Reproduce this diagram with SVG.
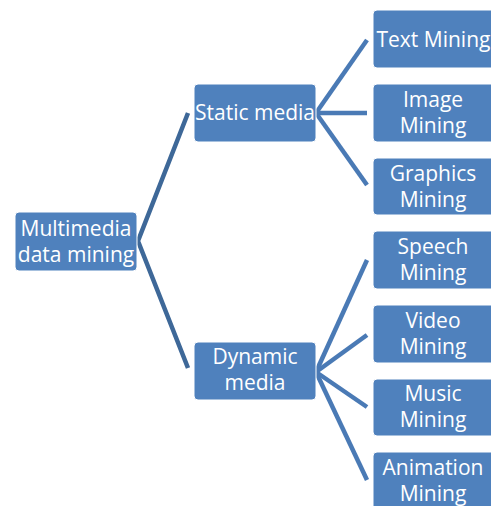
<svg xmlns="http://www.w3.org/2000/svg" width="491" height="506" viewBox="0 0 491 506">
<style>
.box{fill:#4f81bd;stroke:#ffffff;stroke-width:1}
.t{font-family:"Open Sans","Liberation Sans",sans-serif;font-size:21px;fill:#ffffff;text-anchor:middle}
.c1{stroke:#3e6898;stroke-width:4.5;fill:none;stroke-linejoin:miter}
.c2{stroke:#4a7ab5;stroke-width:4.5;fill:none}
</style>
<rect width="491" height="506" fill="#ffffff"/>
<g id="connectors">
<polyline class="c1" points="188,113 138,241 188,368"/>
<line class="c2" x1="316" y1="113" x2="367" y2="40"/>
<line class="c2" x1="316" y1="113" x2="367" y2="113"/>
<line class="c2" x1="316" y1="113" x2="367" y2="185"/>
<line class="c2" x1="316" y1="372" x2="367" y2="260"/>
<line class="c2" x1="316" y1="372" x2="367" y2="335"/>
<line class="c2" x1="316" y1="372" x2="367" y2="407"/>
<line class="c2" x1="316" y1="372" x2="367" y2="480"/>
</g>
<g id="root"><rect class="box" x="15" y="212" width="122" height="59" rx="4"/><text class="t" x="76" y="236">Multimedia</text><text class="t" x="76" y="262">data mining</text></g>
<g id="static"><rect class="box" x="194" y="84" width="122" height="58" rx="4"/><text class="t" x="255" y="120">Static media</text></g>
<g id="dynamic"><rect class="box" x="194" y="342" width="122" height="58" rx="4"/><text class="t" x="255" y="364">Dynamic</text><text class="t" x="255" y="390">media</text></g>
<g id="text"><rect class="box" x="373" y="10" width="122" height="58" rx="4"/><text class="t" x="433.5" y="47">Text Mining</text></g>
<g id="image"><rect class="box" x="373" y="84" width="122" height="58" rx="4"/><text class="t" x="433" y="107">Image</text><text class="t" x="433" y="133">Mining</text></g>
<g id="graphics"><rect class="box" x="373" y="158" width="122" height="57" rx="4"/><text class="t" x="433" y="181">Graphics</text><text class="t" x="433" y="207">Mining</text></g>
<g id="speech"><rect class="box" x="373" y="231" width="122" height="58" rx="4"/><text class="t" x="433" y="254">Speech</text><text class="t" x="433" y="280">Mining</text></g>
<g id="video"><rect class="box" x="373" y="305" width="122" height="58" rx="4"/><text class="t" x="433" y="328">Video</text><text class="t" x="433" y="354">Mining</text></g>
<g id="music"><rect class="box" x="373" y="379" width="122" height="57" rx="4"/><text class="t" x="433" y="401">Music</text><text class="t" x="433" y="427">Mining</text></g>
<g id="animation"><rect class="box" x="373" y="452" width="122" height="58" rx="4"/><text class="t" x="433" y="475">Animation</text><text class="t" x="433" y="501">Mining</text></g>
</svg>
